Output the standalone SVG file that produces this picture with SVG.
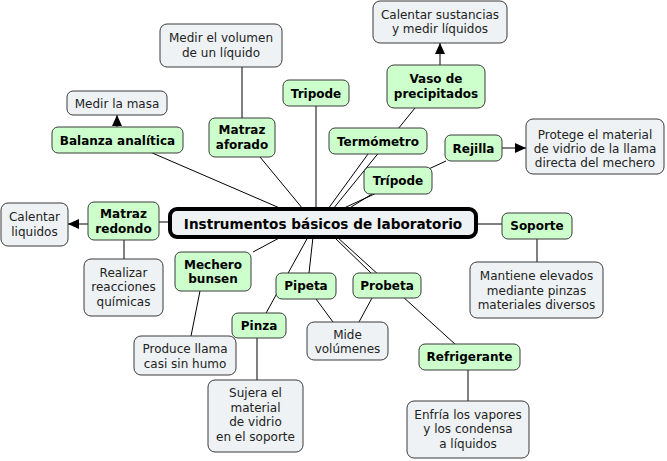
<svg xmlns="http://www.w3.org/2000/svg" width="667" height="461" viewBox="0 0 667 461">
<defs>
<style>
.c rect{fill:#ccffcc;stroke:#3a3a3a;stroke-width:1}
.d rect{fill:#eef2f5;stroke:#3a3a3a;stroke-width:1}
.c text{font-family:"DejaVu Sans",Verdana,sans-serif;font-size:12px;font-weight:bold;fill:#000;text-anchor:middle}
.d text{font-family:"DejaVu Sans",Verdana,sans-serif;font-size:12px;fill:#222;text-anchor:middle}
#edges line{stroke:#000;stroke-width:1}
</style>
<marker id="ah" markerUnits="userSpaceOnUse" markerWidth="11" markerHeight="10" refX="11" refY="5" orient="auto">
<path d="M0,0 L11,5 L0,10 z" fill="#000"/>
</marker>
</defs>
<rect width="667" height="461" fill="#fff"/>
<g id="edges">
<line x1="150" y1="152" x2="282" y2="209"/>
<line x1="117" y1="127" x2="117" y2="115" marker-end="url(#ah)"/>
<line x1="242" y1="118" x2="242" y2="67"/>
<line x1="260" y1="157" x2="303" y2="209"/>
<line x1="316" y1="106" x2="316" y2="209"/>
<line x1="368" y1="154" x2="328" y2="209"/>
<line x1="415" y1="108" x2="333" y2="209"/>
<line x1="440" y1="65" x2="440" y2="43" marker-end="url(#ah)"/>
<line x1="372" y1="194" x2="348" y2="209"/>
<line x1="446" y1="161" x2="344" y2="208"/>
<line x1="502" y1="148" x2="526" y2="148" marker-end="url(#ah)"/>
<line x1="476" y1="224" x2="502" y2="224"/>
<line x1="537" y1="239" x2="537" y2="262"/>
<line x1="159" y1="222" x2="170" y2="222"/>
<line x1="88" y1="224" x2="68" y2="224" marker-end="url(#ah)"/>
<line x1="124" y1="240" x2="124" y2="259"/>
<line x1="253" y1="252" x2="281" y2="237"/>
<line x1="200" y1="291" x2="191" y2="336"/>
<line x1="313" y1="237" x2="309" y2="273"/>
<line x1="308" y1="237" x2="265" y2="315"/>
<line x1="257" y1="338" x2="257" y2="380"/>
<line x1="316" y1="299" x2="333" y2="322"/>
<line x1="372" y1="298" x2="359" y2="322"/>
<line x1="334" y1="237" x2="371" y2="273"/>
<line x1="337" y1="237" x2="456" y2="345"/>
<line x1="468" y1="370" x2="468" y2="401"/>
</g>
<g id="central">
<rect x="170" y="209" width="306" height="28" rx="7" fill="#eef2f5" stroke="#000" stroke-width="4"/>
<text x="323" y="228.5" font-family="DejaVu Sans,Verdana,sans-serif" font-size="13.6" font-weight="bold" text-anchor="middle" fill="#000">Instrumentos básicos de laboratorio</text>
</g>
<g id="balanza" class="c"><rect x="52" y="127" width="131" height="26" rx="6"/><text x="117.5" y="144.5">Balanza analítica</text></g>
<g id="medir-masa" class="d"><rect x="67" y="91" width="100" height="24" rx="6"/><text x="117" y="107.5">Medir la masa</text></g>
<g id="medir-volumen" class="d"><rect x="160" y="24" width="122" height="43" rx="7"/><text x="221" y="42">Medir el volumen</text><text x="221" y="56.5">de un líquido</text></g>
<g id="matraz-aforado" class="c"><rect x="209" y="118" width="66" height="39" rx="6"/><text x="242" y="134">Matraz</text><text x="242" y="148.5">aforado</text></g>
<g id="tripode1" class="c"><rect x="283" y="80" width="66" height="26" rx="6"/><text x="316" y="97.5">Tripode</text></g>
<g id="termometro" class="c"><rect x="329" y="128" width="98" height="26" rx="6"/><text x="378" y="145.5">Termómetro</text></g>
<g id="vaso" class="c"><rect x="387" y="65" width="98" height="43" rx="7"/><text x="436" y="83">Vaso de</text><text x="436" y="97.5">precipitados</text></g>
<g id="calentar-sust" class="d"><rect x="373" y="1" width="134" height="42" rx="7"/><text x="440" y="18.5">Calentar sustancias</text><text x="440" y="33">y medir líquidos</text></g>
<g id="rejilla" class="c"><rect x="445" y="135" width="57" height="26" rx="6"/><text x="473.5" y="152.5">Rejilla</text></g>
<g id="protege" class="d"><rect x="526" y="119" width="138" height="55" rx="7"/><text x="595" y="139">Protege el material</text><text x="595" y="153">de vidrio de la llama</text><text x="595" y="167">directa del mechero</text></g>
<g id="tripode2" class="c"><rect x="364" y="167" width="68" height="27" rx="6"/><text x="398" y="185">Trípode</text></g>
<g id="matraz-redondo" class="c"><rect x="88" y="202" width="71" height="38" rx="6"/><text x="123.5" y="218">Matraz</text><text x="123.5" y="232.5">redondo</text></g>
<g id="calentar-liq" class="d"><rect x="1" y="203" width="67" height="43" rx="7"/><text x="34.5" y="221">Calentar</text><text x="34.5" y="235.5">liquidos</text></g>
<g id="realizar" class="d"><rect x="84" y="259" width="79" height="57" rx="7"/><text x="123.5" y="276.5">Realizar</text><text x="123.5" y="291">reacciones</text><text x="123.5" y="305.5">químicas</text></g>
<g id="mechero" class="c"><rect x="175" y="252" width="76" height="39" rx="6"/><text x="213" y="268.5">Mechero</text><text x="213" y="283">bunsen</text></g>
<g id="produce" class="d"><rect x="134" y="336" width="102" height="39" rx="7"/><text x="185" y="353">Produce llama</text><text x="185" y="367.5">casi sin humo</text></g>
<g id="pipeta" class="c"><rect x="276" y="273" width="60" height="26" rx="6"/><text x="306" y="290">Pipeta</text></g>
<g id="pinza" class="c"><rect x="232" y="313" width="54" height="25" rx="6"/><text x="259" y="330">Pinza</text></g>
<g id="sujera" class="d"><rect x="208" y="380" width="95" height="72" rx="7"/><text x="255.5" y="397">Sujera el</text><text x="255.5" y="411.5">material</text><text x="255.5" y="426">de vidrio</text><text x="255.5" y="440.5">en el soporte</text></g>
<g id="mide" class="d"><rect x="307" y="322" width="81" height="38" rx="7"/><text x="347.5" y="338.5">Mide</text><text x="347.5" y="353">volúmenes</text></g>
<g id="probeta" class="c"><rect x="353" y="273" width="68" height="25" rx="6"/><text x="387" y="290">Probeta</text></g>
<g id="refrigerante" class="c"><rect x="419" y="344" width="101" height="26" rx="6"/><text x="469.5" y="361">Refrigerante</text></g>
<g id="enfria" class="d"><rect x="407" y="401" width="122" height="57" rx="7"/><text x="468" y="418.5">Enfría los vapores</text><text x="468" y="433">y los condensa</text><text x="468" y="447.5">a líquidos</text></g>
<g id="soporte" class="c"><rect x="502" y="213" width="70" height="26" rx="6"/><text x="537" y="230">Soporte</text></g>
<g id="mantiene" class="d"><rect x="470" y="262" width="133" height="56" rx="7"/><text x="536.5" y="280">Mantiene elevados</text><text x="536.5" y="294.5">mediante pinzas</text><text x="536.5" y="309">materiales diversos</text></g>
</svg>
